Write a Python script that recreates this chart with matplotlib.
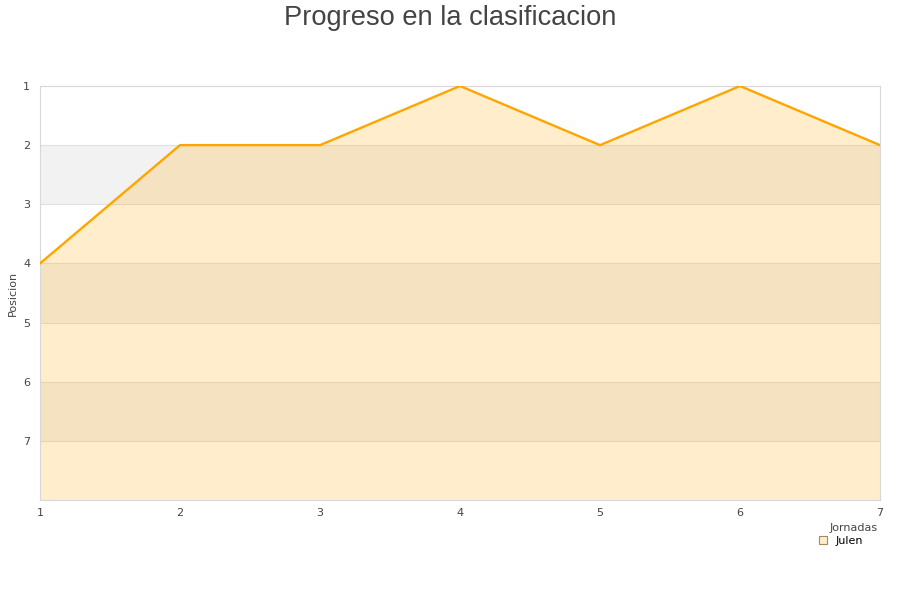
import matplotlib
matplotlib.use("Agg")
import matplotlib.pyplot as plt
from matplotlib.lines import Line2D

jornadas = [1, 2, 3, 4, 5, 6, 7]
posicion = [4, 2, 2, 1, 2, 1, 2]
serie = "Julen"

fig = plt.figure(figsize=(9, 6), dpi=100)
ax = fig.add_axes([40 / 900, 100 / 600, 840 / 900, 414 / 600])

# alternating bands
for k in (2, 4, 6):
    ax.axhspan(k, k + 1, color="#f2f2f2", zorder=0, lw=0)
for k in range(2, 8):
    ax.axhline(k, color="#e0e0e0", lw=0.8, zorder=1)

ax.fill_between(jornadas, posicion, 8, color="#ffa500", alpha=0.2, lw=0, zorder=2)
ax.plot(jornadas, posicion, color="#ffa500", lw=1.7, zorder=3)

ax.set_xlim(1, 7)
ax.set_ylim(8, 1)
ax.set_yticks(range(1, 8))
ax.set_xticks(jornadas)
ax.tick_params(length=0, labelsize=8, colors="#444444")
ax.tick_params(axis="y", pad=7)
ax.tick_params(axis="x", pad=6)
for s in ax.spines.values():
    s.set_color("#d8d8d8")
    s.set_linewidth(0.8)

ax.set_ylabel("Posicion", fontsize=8, color="#444444", labelpad=4)
fig.text(878 / 900, 1 - 528 / 600, "Jornadas", fontsize=8, color="#444444",
         ha="right", va="center")

fig.suptitle("Progreso en la clasificacion", fontsize=19.6, color="#444444",
             family="Liberation Sans", y=0.992, va="top")

handle = Line2D([], [], marker="s", ls="none", markersize=6,
                markerfacecolor="#ffedcc", markeredgecolor="#a08a60", markeredgewidth=0.8)
leg = fig.legend([handle], [serie], loc="center", bbox_to_anchor=(840 / 900, 1 - 541 / 600),
                 frameon=False, fontsize=8, handlelength=1, handletextpad=0.6,
                 borderpad=0.2, borderaxespad=0)

fig.savefig("out.png", dpi=100)
